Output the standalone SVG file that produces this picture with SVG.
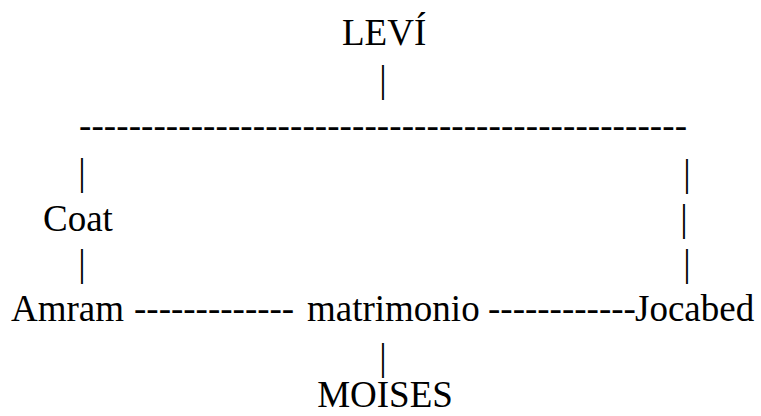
<svg xmlns="http://www.w3.org/2000/svg" width="761" height="416" viewBox="0 0 761 416">
<style>
text{font-family:"Liberation Serif","Times New Roman",serif;font-size:37px;fill:#000}
.c{text-anchor:middle}
</style>
<rect width="761" height="416" fill="#fff"/>
<g id="connectors">
<text class="c" x="383" y="92">|</text>
<text x="79" y="138" textLength="608" lengthAdjust="spacing">-------------------------------------------------</text>
<text class="c" x="82" y="185">|</text>
<text class="c" x="82" y="276">|</text>
<text class="c" x="687" y="186">|</text>
<text class="c" x="684" y="231">|</text>
<text class="c" x="687" y="276">|</text>
<text x="134" y="321">-------------</text>
<text x="488" y="321">------------</text>
<text class="c" x="383" y="370">|</text>
</g>
<g id="levi"><text x="342" y="45">LEVÍ</text></g>
<g id="coat"><text x="43" y="231">Coat</text></g>
<g id="amram"><text x="11" y="321">Amram</text></g>
<g id="matrimonio"><text x="307" y="321">matrimonio</text></g>
<g id="jocabed"><text x="635" y="321">Jocabed</text></g>
<g id="moises"><text class="c" x="385" y="407" font-size="36">MOISES</text></g>
</svg>
